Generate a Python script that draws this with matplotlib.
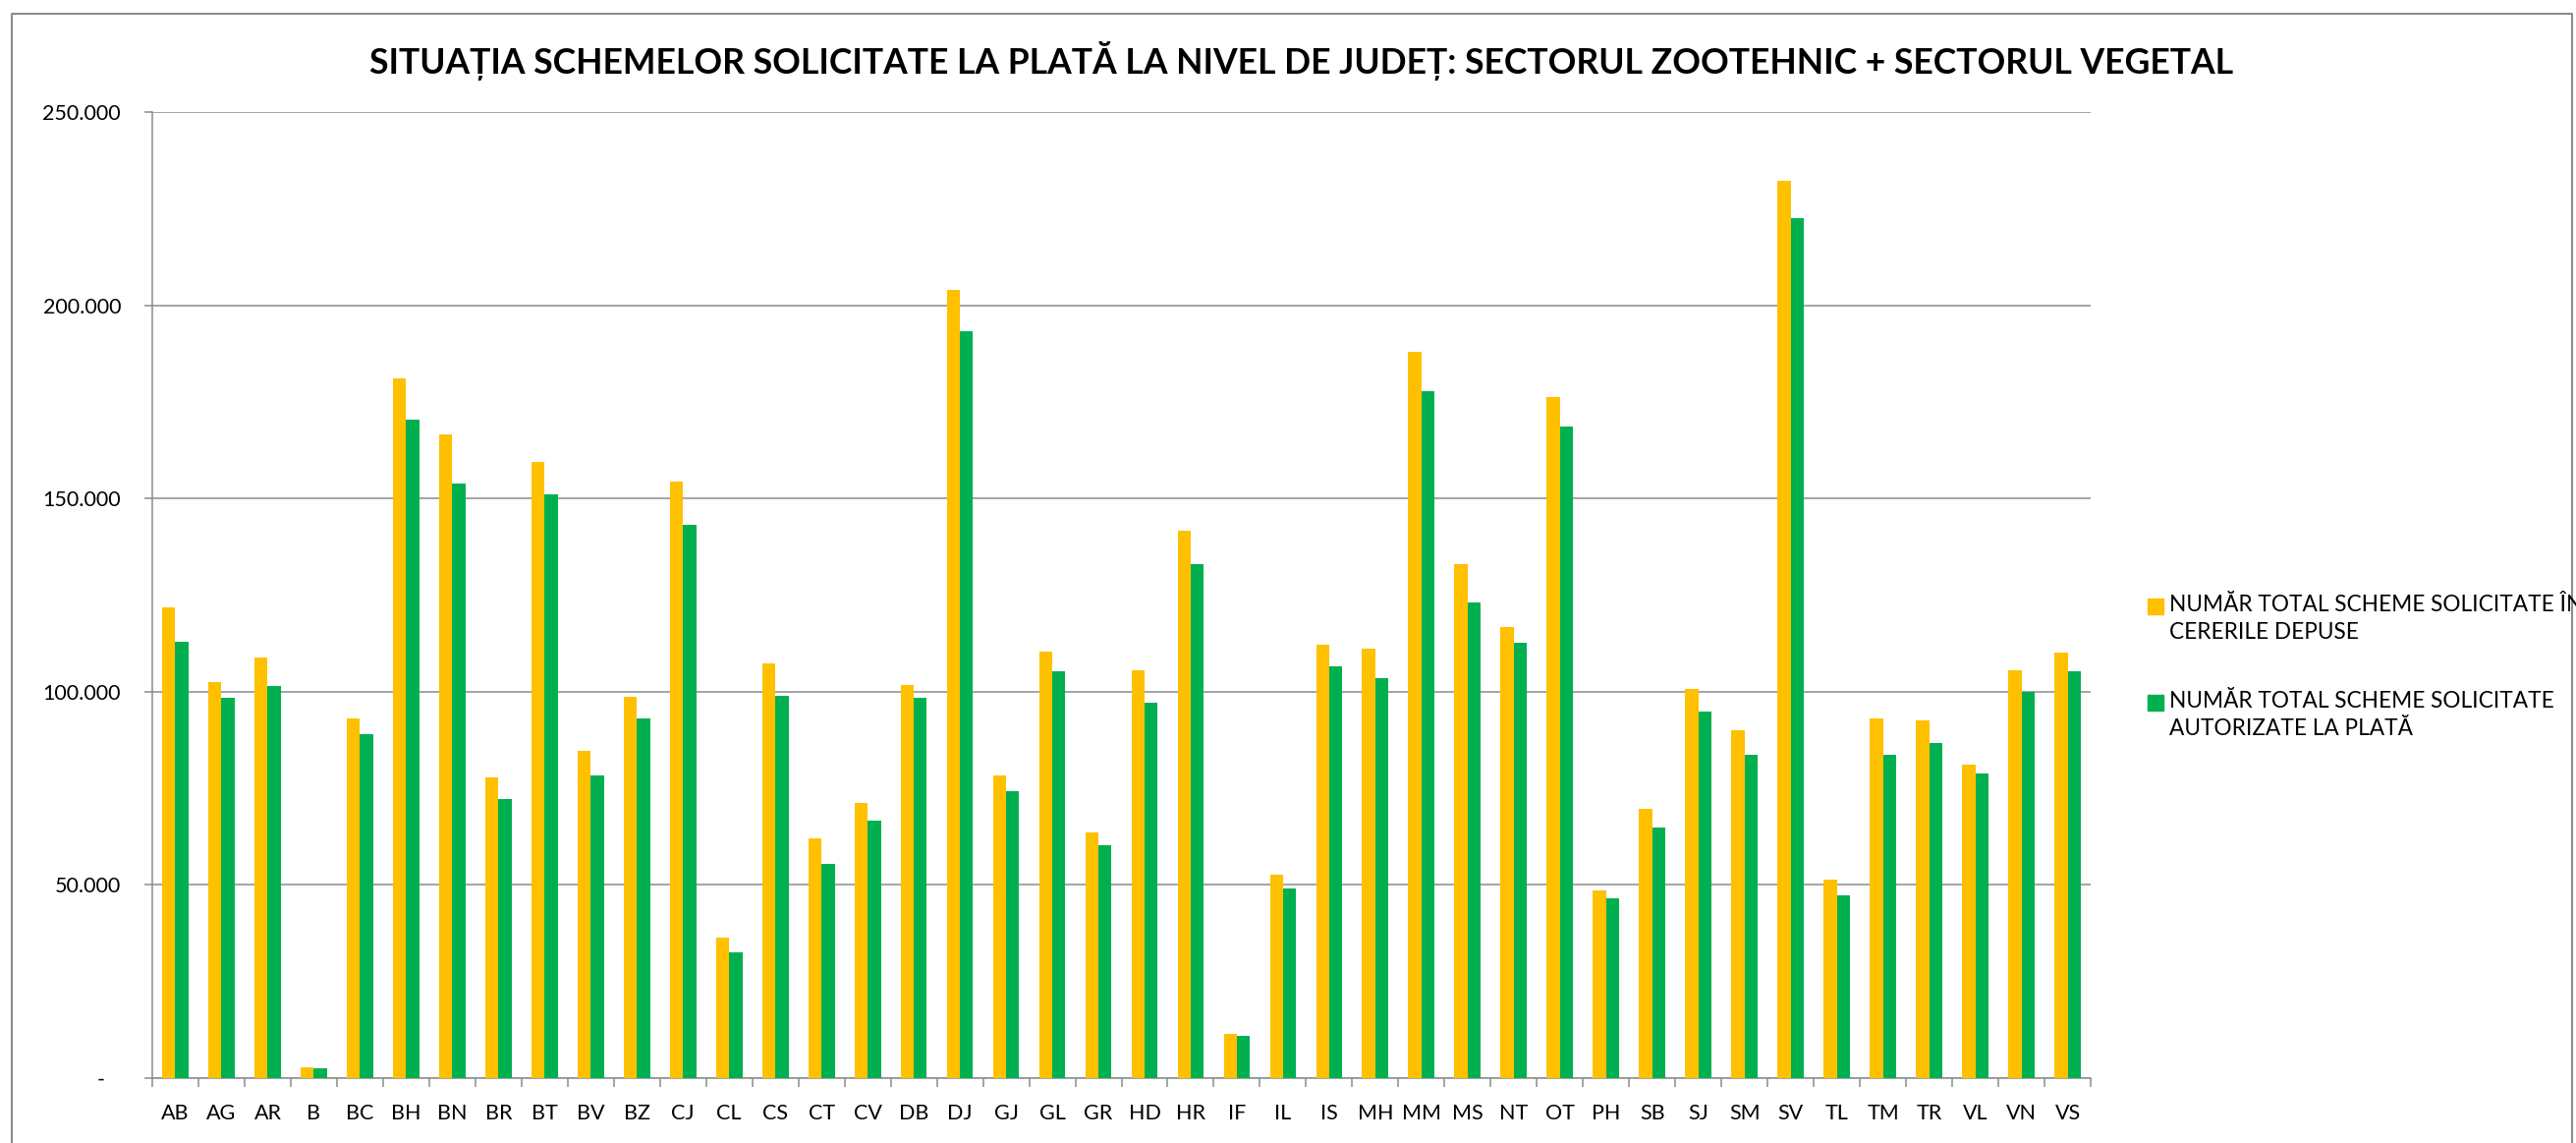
import numpy as np
import matplotlib.pyplot as plt
from matplotlib.lines import Line2D
from matplotlib.patches import Rectangle
from matplotlib.ticker import FuncFormatter, FixedLocator

plt.rcParams['font.family'] = ['Lato', 'DejaVu Sans']

judete = ['AB', 'AG', 'AR', 'B', 'BC', 'BH', 'BN', 'BR', 'BT', 'BV', 'BZ', 'CJ', 'CL', 'CS',
          'CT', 'CV', 'DB', 'DJ', 'GJ', 'GL', 'GR', 'HD', 'HR', 'IF', 'IL', 'IS', 'MH', 'MM',
          'MS', 'NT', 'OT', 'PH', 'SB', 'SJ', 'SM', 'SV', 'TL', 'TM', 'TR', 'VL', 'VN', 'VS']

# numar total scheme solicitate in cererile depuse
solicitate = [121750, 102400, 108900, 2760, 93000, 181150, 166700, 77750, 159400, 84750,
              98700, 154400, 36350, 107300, 62000, 71100, 101800, 203900, 78400, 110400,
              63600, 105500, 141700, 11500, 52750, 112200, 111050, 188000, 132950, 116700,
              176300, 48700, 69800, 100650, 90100, 232150, 51450, 93000, 92550, 81150,
              105500, 110050]

# numar total scheme solicitate autorizate la plata
autorizate = [113000, 98550, 101450, 2430, 88950, 170450, 153900, 72250, 150950, 78250,
              93000, 143200, 32450, 99050, 55500, 66700, 98550, 193200, 74200, 105350,
              60400, 97100, 132950, 10880, 49050, 106650, 103400, 177750, 123050, 112650,
              168500, 46450, 64800, 94800, 83750, 222550, 47400, 83750, 86850, 78750,
              100000, 105200]

serii = ['NUMĂR TOTAL SCHEME SOLICITATE ÎN\nCERERILE DEPUSE',
         'NUMĂR TOTAL SCHEME SOLICITATE\nAUTORIZATE LA PLATĂ']
culori = ['#FFC000', '#00B050']
gri = '#8C8C8C'

W, H = 2622, 1163
fig = plt.figure(figsize=(W / 100, H / 100), dpi=100)
ax = fig.add_axes([155 / W, 1 - 1097 / H, (2128 - 155) / W, (1097 - 114) / H])

x = np.arange(len(judete))
w = 0.285
ax.bar(x - w / 2, solicitate, w, color=culori[0], zorder=3)
ax.bar(x + w / 2, autorizate, w, color=culori[1], zorder=3)

ax.set_xlim(-0.5, len(judete) - 0.5)
ax.set_ylim(0, 250000)
ax.set_yticks(np.arange(0, 250001, 50000))
ax.yaxis.set_major_formatter(FuncFormatter(
    lambda v, p: '-   ' if v == 0 else f'{int(v):,}'.replace(',', '.')))
ax.grid(axis='y', color=gri, linewidth=1.1, zorder=0)

ax.set_xticks(x)
ax.set_xticklabels(judete)
ax.xaxis.set_minor_locator(FixedLocator(np.arange(-0.5, len(judete), 1)))
ax.tick_params(axis='x', which='major', length=0, pad=18.5, labelsize=15.5)
ax.tick_params(axis='x', which='minor', length=6.5, width=1.1, color=gri, direction='out')
ax.tick_params(axis='y', length=6, width=1.1, color=gri, pad=17, labelsize=15.5)

for s in ['top', 'right']:
    ax.spines[s].set_visible(False)
for s in ['left', 'bottom']:
    ax.spines[s].set_color(gri)
    ax.spines[s].set_linewidth(1.1)

fig.text(0.505, 1 - 75 / H,
         'SITUAȚIA SCHEMELOR SOLICITATE LA PLATĂ LA NIVEL DE JUDEȚ: SECTORUL ZOOTEHNIC + SECTORUL VEGETAL',
         ha='center', va='baseline', fontsize=25.6, fontweight='bold')

# legenda (textul primei serii iese din chenar, ca in original)
for i, (lbl, c) in enumerate(zip(serii, culori)):
    y0 = 617 + i * 98
    fig.patches.append(Rectangle((2186 / W, 1 - (y0 + 8) / H), 16 / W, 16 / H,
                                 transform=fig.transFigure, color=c))
    fig.text(2208 / W, 1 - (y0 - 12) / H, lbl, ha='left', va='top', fontsize=16.3,
             linespacing=1.4)

# chenarul graficului
fig.lines.append(Line2D([12 / W, 12 / W, 2618 / W, 2618 / W], [0, 1 - 14 / H, 1 - 14 / H, 0],
                        transform=fig.transFigure, color=gri, linewidth=1.5))

fig.savefig('out.png', dpi=100)
